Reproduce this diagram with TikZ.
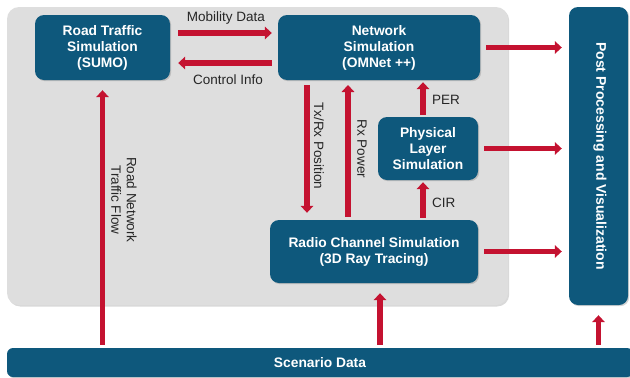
\documentclass[tikz,border=0pt]{standalone}
\usepackage{fontspec}
\setmainfont{Liberation Sans}
\usetikzlibrary{arrows.meta,shadows}
\definecolor{teal}{RGB}{14,88,124}
\definecolor{arrred}{RGB}{196,18,48}
\definecolor{panel}{RGB}{222,222,222}
\tikzset{
  box/.style={draw=none,fill=teal,rounded corners=9pt,text=white,
    font=\fontsize{13.8}{16}\selectfont\bfseries,align=center,inner sep=0pt,
    drop shadow={opacity=0.35,shadow xshift=1.2pt,shadow yshift=-1.2pt}},
  arr/.style={draw=arrred,line width=5.6pt,-{Triangle[width=12.5pt,length=7pt]}},
  lbl/.style={font=\fontsize{13.5}{15.5}\selectfont,text=black!85,inner sep=0pt},
}
\begin{document}
\begin{tikzpicture}[x=1pt,y=-1pt]
\useasboundingbox (0,0) rectangle (630,378);
% gray panel
\fill[panel,rounded corners=12pt,drop shadow={opacity=0.3,shadow xshift=1.2pt,shadow yshift=-1.5pt}] (7,7) rectangle (508,305);
% boxes
\node[box,minimum width=135pt,minimum height=65pt] (road) at (102.5,47.5) {Road Traffic\\Simulation\\(SUMO)};
\node[box,minimum width=202pt,minimum height=65pt] (net) at (379,47.5) {Network\\Simulation\\(OMNet ++)};
\node[box,minimum width=100pt,minimum height=63pt] (phy) at (428,148.5) {Physical\\Layer\\Simulation};
\node[box,minimum width=208pt,minimum height=63pt] (radio) at (374,251.5) {Radio Channel Simulation\\(3D Ray Tracing)};
\node[box,minimum width=59pt,minimum height=298pt] (post) at (598.5,156) {};
\node[font=\fontsize{14}{16}\selectfont\bfseries,text=white,rotate=-90] (posttxt) at (600,156) {Post Processing and Visualization};
\node[box,rounded corners=6pt,minimum width=626pt,minimum height=29pt] (scen) at (320,362.5) {Scenario Data};
% coordinates
\coordinate (tx) at (307,80);
\coordinate (rx) at (348,80);
% horizontal arrows
\draw[arr,shorten <=8pt,shorten >=6pt] ([yshift=14.5pt]road.east) -- ([yshift=14.5pt]net.west);
\draw[arr,shorten <=6pt,shorten >=8pt] ([yshift=-15.5pt]net.west) -- ([yshift=-15.5pt]road.east);
\node[lbl] (mob) at (226,18) {Mobility Data};
\node[lbl] (ctl) at (228,80) {Control Info};
\draw[arr,shorten <=6pt,shorten >=7pt] (net.east) -- (post.west |- net.east);
\draw[arr,shorten <=6pt,shorten >=7pt] (phy.east) -- (post.west |- phy.east);
\draw[arr,shorten <=6pt,shorten >=7pt] (radio.east) -- (post.west |- radio.east);
% vertical arrows
\draw[arr,shorten <=2pt,shorten >=2pt] ([xshift=-5pt]phy.north) -- ([xshift=-5pt]phy.north |- net.south);
\node[lbl,anchor=west] (per) at (432,100) {PER};
\draw[arr,shorten <=2pt,shorten >=2pt] ([xshift=-5pt]phy.south |- radio.north) -- ([xshift=-5pt]phy.south);
\node[lbl,anchor=west] (cir) at (432,203) {CIR};
\draw[arr,shorten <=5pt,shorten >=7pt] (tx) -- (tx |- radio.north);
\draw[arr,shorten <=3pt,shorten >=5pt] (rx |- radio.north) -- (rx);
\node[lbl,rotate=-90] (txl) at (319,146) {Tx/Rx Position};
\node[lbl,rotate=-90] (rxl) at (362,149) {Rx Power};
\draw[arr,shorten <=3pt,shorten >=10pt] (road.south |- scen.north) -- (road.south);
\node[lbl,rotate=-90,align=center] (rnl) at (124,200) {Road Network\\Traffic Flow};
\draw[arr,shorten <=3pt,shorten >=10pt] ([xshift=6pt]radio.south |- scen.north) -- ([xshift=6pt]radio.south);
\draw[arr,shorten <=3pt,shorten >=10pt] (post.south |- scen.north) -- (post.south);
\end{tikzpicture}
\end{document}
